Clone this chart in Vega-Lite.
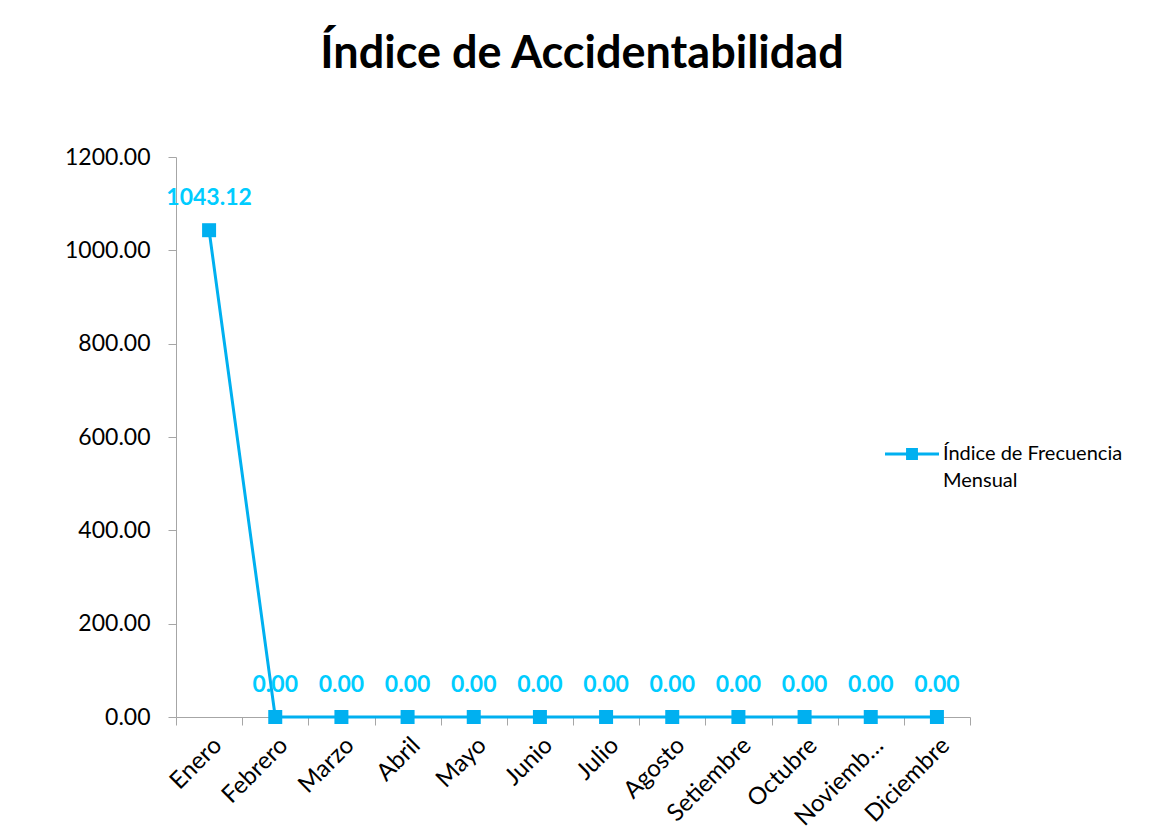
{
  "$schema": "https://vega.github.io/schema/vega-lite/v6.json",
  "autosize": {"type": "none"},
  "width": 794,
  "height": 560,
  "padding": {"left": 176, "top": 157, "right": 180, "bottom": 123},
  "background": "white",
  "config": {
    "font": "Lato",
    "view": {"stroke": null},
    "axis": {"grid": false, "domainColor": "#A6A6A6", "tickColor": "#A6A6A6", "labelColor": "#000000", "labelFont": "Lato", "labelFontSize": 23, "title": null},
    "style": {"guide-label": {"lineHeight": 27}}
  },
  "title": {
    "text": "Índice de Accidentabilidad",
    "font": "Lato",
    "fontSize": 45,
    "fontWeight": "bold",
    "color": "#000000",
    "anchor": "middle",
    "frame": "group",
    "dx": 9,
    "offset": 33,
    "baseline": "alphabetic"
  },
  "data": {
    "values": [
      {"mes": "Enero", "valor": 1043.12, "serie": "Índice de Frecuencia Mensual"},
      {"mes": "Febrero", "valor": 0, "serie": "Índice de Frecuencia Mensual"},
      {"mes": "Marzo", "valor": 0, "serie": "Índice de Frecuencia Mensual"},
      {"mes": "Abril", "valor": 0, "serie": "Índice de Frecuencia Mensual"},
      {"mes": "Mayo", "valor": 0, "serie": "Índice de Frecuencia Mensual"},
      {"mes": "Junio", "valor": 0, "serie": "Índice de Frecuencia Mensual"},
      {"mes": "Julio", "valor": 0, "serie": "Índice de Frecuencia Mensual"},
      {"mes": "Agosto", "valor": 0, "serie": "Índice de Frecuencia Mensual"},
      {"mes": "Setiembre", "valor": 0, "serie": "Índice de Frecuencia Mensual"},
      {"mes": "Octubre", "valor": 0, "serie": "Índice de Frecuencia Mensual"},
      {"mes": "Noviembre", "valor": 0, "serie": "Índice de Frecuencia Mensual"},
      {"mes": "Diciembre", "valor": 0, "serie": "Índice de Frecuencia Mensual"}
    ]
  },
  "encoding": {
    "x": {
      "field": "mes",
      "type": "nominal",
      "sort": null,
      "scale": {"type": "band", "paddingInner": 0, "paddingOuter": 0},
      "axis": {
        "labelAngle": -45,
        "labelFontSize": 24,
        "tickBand": "extent",
        "tickSize": 8,
        "labelPadding": 8,
        "labelExpr": "datum.value == 'Noviembre' ? 'Noviemb…' : datum.value"
      }
    },
    "y": {
      "field": "valor",
      "type": "quantitative",
      "scale": {"domain": [0, 1200], "nice": false},
      "axis": {"values": [0, 200, 400, 600, 800, 1000, 1200], "format": ".2f", "tickSize": 8, "labelPadding": 18}
    }
  },
  "layer": [
    {
      "mark": {"type": "line", "color": "#00B0F0", "strokeWidth": 3}
    },
    {
      "mark": {"type": "point", "shape": "square", "filled": true, "size": 196, "opacity": 1},
      "encoding": {
        "color": {
          "field": "serie",
          "type": "nominal",
          "scale": {"range": ["#00B0F0"]},
          "legend": {
            "title": null,
            "orient": "none",
            "legendX": 709,
            "legendY": 270,
            "symbolType": "M-1,-0.055H1V0.055H-1Z M-0.22,-0.22H0.22V0.22H-0.22Z",
            "symbolSize": 2916,
            "symbolStrokeWidth": 0,
            "symbolOpacity": 1,
            "labelFont": "Lato",
            "labelFontSize": 20,
            "labelColor": "#000000",
            "labelOffset": 4,
            "labelLimit": 300,
            "labelExpr": "['Índice de Frecuencia', 'Mensual']"
          }
        }
      }
    },
    {
      "mark": {"type": "text", "color": "#00CCFF", "fontWeight": "bold", "fontSize": 23, "font": "Lato", "dy": -32},
      "encoding": {
        "text": {"field": "valor", "type": "quantitative", "format": ".2f"}
      }
    }
  ]
}
